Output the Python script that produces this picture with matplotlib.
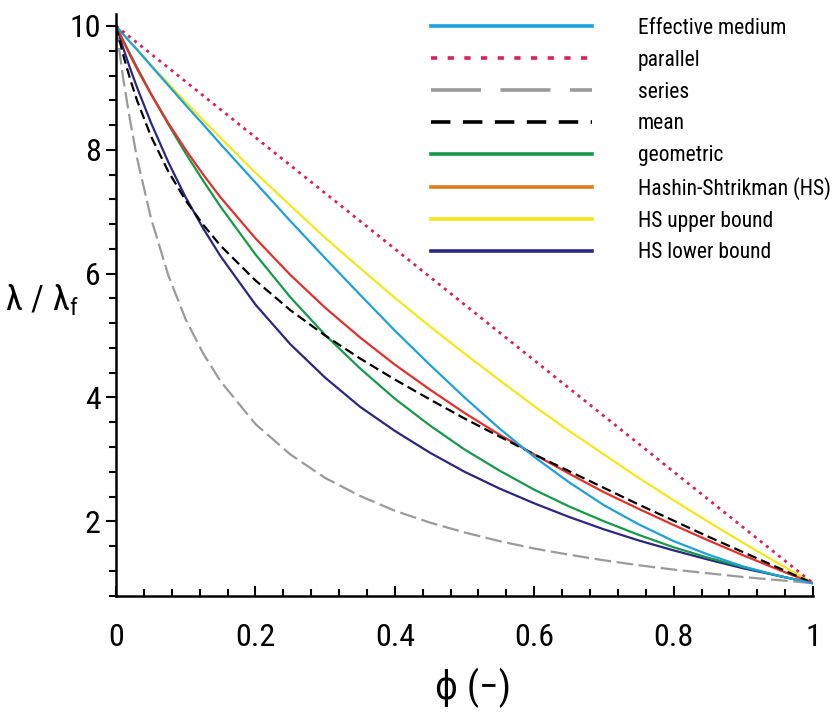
import matplotlib
matplotlib.use("Agg")
import matplotlib.pyplot as plt
from matplotlib.lines import Line2D
from matplotlib.ticker import MultipleLocator, FixedLocator, FixedFormatter
from matplotlib import font_manager as fm

# look for a narrow / condensed sans, fall back to Liberation Sans
font_name, font_stretch = "Liberation Sans", "normal"
found = []
for f in fm.fontManager.ttflist:
    if f.style != "normal" or f.weight not in (400, "normal", "regular"):
        continue
    st = str(f.stretch)
    if "Narrow" in f.name or "Condensed" in f.name or "condensed" in st:
        found.append((f.name, st))
for pref in ["Liberation Sans Narrow", "Roboto Condensed", "Arial Narrow", "Open Sans Condensed"]:
    hit = [x for x in found if x[0] == pref]
    if hit:
        font_name, font_stretch = hit[0]
        break
else:
    if found:
        font_name, font_stretch = found[0]

plt.rcParams["font.family"] = [font_name, "DejaVu Sans"]
plt.rcParams["font.stretch"] = font_stretch
plt.rcParams["mathtext.fontset"] = "custom"
plt.rcParams["mathtext.rm"] = font_name
plt.rcParams["mathtext.it"] = font_name
plt.rcParams["lines.scale_dashes"] = False

# porosity phi and conductivity ratios
phi = [0, 0.01, 0.02, 0.03, 0.05, 0.075, 0.1, 0.125, 0.15, 0.2, 0.25, 0.3, 0.35,
       0.4, 0.45, 0.5, 0.55, 0.6, 0.65, 0.7, 0.75, 0.8, 0.85, 0.9, 0.95, 1.0]

eff_medium = [10, 9.87, 9.74, 9.62, 9.36, 9.04, 8.72, 8.41, 8.09, 7.47, 6.85, 6.25, 5.66,
              5.08, 4.53, 4.00, 3.50, 3.04, 2.63, 2.26, 1.95, 1.68, 1.46, 1.27, 1.12, 1.0]
parallel_x = [0, 1.0]
parallel = [10, 1.0]
series = [10, 9.17, 8.48, 7.87, 6.90, 5.97, 5.26, 4.71, 4.26, 3.57, 3.08, 2.70, 2.41,
          2.17, 1.98, 1.82, 1.68, 1.56, 1.46, 1.37, 1.29, 1.22, 1.16, 1.10, 1.05, 1.0]
mean = [10, 9.54, 9.15, 8.80, 8.22, 7.65, 7.18, 6.79, 6.45, 5.89, 5.41, 5.00, 4.63,
        4.29, 3.97, 3.66, 3.37, 3.08, 2.81, 2.54, 2.27, 2.01, 1.75, 1.50, 1.25, 1.0]
geometric = [10, 9.77, 9.55, 9.33, 8.91, 8.41, 7.94, 7.50, 7.08, 6.31, 5.62, 5.01, 4.47,
             3.98, 3.55, 3.16, 2.82, 2.51, 2.24, 2.00, 1.78, 1.58, 1.41, 1.26, 1.12, 1.0]
hs = [10, 9.76, 9.53, 9.31, 8.90, 8.43, 8.00, 7.60, 7.23, 6.57, 5.98, 5.45, 4.97,
      4.53, 4.13, 3.75, 3.40, 3.08, 2.77, 2.47, 2.20, 1.94, 1.69, 1.45, 1.22, 1.0]
hs_upper = [10, 9.87, 9.75, 9.62, 9.37, 9.07, 8.77, 8.48, 8.19, 7.63, 7.10, 6.58, 6.09,
            5.61, 5.15, 4.71, 4.28, 3.86, 3.46, 3.08, 2.70, 2.34, 1.99, 1.65, 1.32, 1.0]
hs_lower = [10, 9.65, 9.32, 9.01, 8.44, 7.80, 7.23, 6.73, 6.28, 5.50, 4.86, 4.32, 3.85,
            3.46, 3.11, 2.80, 2.53, 2.29, 2.07, 1.87, 1.69, 1.53, 1.38, 1.24, 1.12, 1.0]

labels = ["Effective medium", "parallel", "series", "mean", "geometric",
          "Hashin-Shtrikman (HS)", "HS upper bound", "HS lower bound"]
xticks = [0, 0.2, 0.4, 0.6, 0.8, 1.0]
xticklabels = ["0", "0.2", "0.4", "0.6", "0.8", "1"]
yticks = [2, 4, 6, 8, 10]

c_blue = "#1ea0dc"
c_mag = "#dc1e64"
c_gray = "#9a9a9a"
c_black = "#000000"
c_green = "#17994a"
c_red = "#e2302a"
c_orange = "#e07b1a"
c_yellow = "#f2e81a"
c_navy = "#2b2683"

fig = plt.figure(figsize=(8.35, 7.15), dpi=100)
ax = fig.add_axes([0.139, 0.167, 0.8347, 0.814])

lw = 1.6
ax.plot(phi, hs_upper, color=c_yellow, lw=lw)
ax.plot(phi, hs_lower, color=c_navy, lw=lw)
ax.plot(phi, geometric, color=c_green, lw=lw)
ax.plot(phi, hs, color=c_red, lw=lw)
ax.plot(phi, series, color=c_gray, lw=lw, dashes=(12, 4))
ax.plot(phi, mean, color=c_black, lw=lw, dashes=(7, 3.5))
ax.plot(phi, eff_medium, color=c_blue, lw=lw)
ax.plot(parallel_x, parallel, color=c_mag, lw=2, dashes=(2.2, 3.4))

ax.set_xlim(0, 1)
ax.set_ylim(0.8, 10.2)
for s in ["top", "right"]:
    ax.spines[s].set_visible(False)
for s in ["left", "bottom"]:
    ax.spines[s].set_linewidth(1.8)

ax.xaxis.set_major_locator(FixedLocator(xticks))
ax.xaxis.set_major_formatter(FixedFormatter(xticklabels))
ax.xaxis.set_minor_locator(MultipleLocator(0.04))
ax.yaxis.set_major_locator(FixedLocator(yticks))
ax.yaxis.set_minor_locator(MultipleLocator(0.4))
ax.tick_params(axis="x", which="both", direction="in", width=1.5, labelsize=23, pad=20)
ax.tick_params(axis="x", which="major", length=7)
ax.tick_params(axis="x", which="minor", length=5)
ax.tick_params(axis="y", which="both", direction="out", width=1.5, labelsize=23, pad=4)
ax.tick_params(axis="y", which="major", length=7)
ax.tick_params(axis="y", which="minor", length=5)

fig.text(42 / 835, 1 - 300 / 715, r"$\lambda\ /\ \lambda_{\mathrm{f}}$",
         ha="center", va="center", fontsize=25)
fig.text(473 / 835, 1 - 688 / 715, "ϕ (−)", ha="center", va="center", fontsize=28)

lw_leg = 2.6
handles = [
    Line2D([], [], color=c_blue, lw=lw_leg),
    Line2D([], [], color=c_mag, lw=lw_leg, dashes=(4.5, 7.5)),
    Line2D([], [], color=c_gray, lw=lw_leg, dashes=(36, 14)),
    Line2D([], [], color=c_black, lw=lw_leg, dashes=(14, 9)),
    Line2D([], [], color=c_green, lw=lw_leg),
    Line2D([], [], color=c_orange, lw=lw_leg),
    Line2D([], [], color=c_yellow, lw=lw_leg),
    Line2D([], [], color=c_navy, lw=lw_leg),
]
fig.legend(handles, labels, loc="upper left", bbox_to_anchor=(431 / 835, 1 - 18 / 715),
           frameon=False, fontsize=15.5, borderpad=0, borderaxespad=0,
           handlelength=7.5, handletextpad=2.1, labelspacing=0.5)

fig.savefig("out.png", dpi=100)
